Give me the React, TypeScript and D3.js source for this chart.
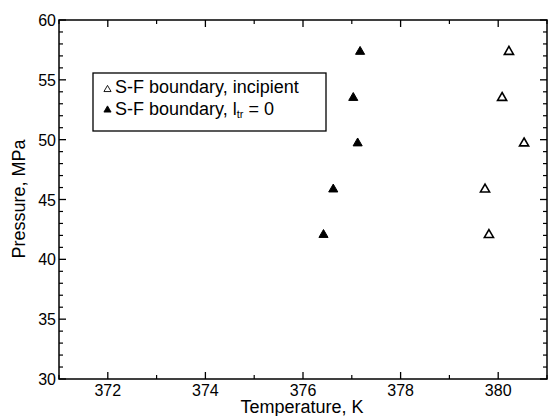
import React from "react";
import * as d3 from "d3";

const incipientT = [380.22, 380.08, 380.53, 379.73, 379.81];
const incipientP = [57.35, 53.5, 49.7, 45.85, 42.05];
const zeroT = [377.17, 377.03, 377.12, 376.62, 376.42];
const zeroP = [57.35, 53.5, 49.7, 45.85, 42.05];
const xMajorTicks = [372, 374, 376, 378, 380];
const yMajorTicks = [30, 35, 40, 45, 50, 55, 60];
const legendLabels = ["S-F boundary, incipient", "S-F boundary, "];

const W = 548;
const H = 416;
const left = 59;
const right = 547;
const top = 20;
const bottom = 379;
const font = "Arial, 'Liberation Sans', Helvetica, sans-serif";

export default function App() {
  const x = d3.scaleLinear().domain([371, 381]).range([left, right]);
  const y = d3.scaleLinear().domain([30, 60]).range([bottom, top]);
  const tri = d3.symbol().type(d3.symbolTriangle).size(36)();
  const xMinor = d3.range(371, 381.01, 1).filter((v) => !xMajorTicks.includes(v));
  const yMinor = d3.range(30, 60.01, 1).filter((v) => !yMajorTicks.includes(v));
  const major = 7;
  const minor = 4;
  const legTri = d3.symbol().type(d3.symbolTriangle).size(22)();

  return (
    <svg width={W} height={H} style={{ position: "absolute", left: 0, top: 0 }} fontFamily={font}>
      <rect x={0} y={0} width={W} height={H} fill="#fff" />
      {/* frame */}
      <rect x={left} y={top} width={right - left} height={bottom - top} fill="none" stroke="#000" strokeWidth={1.5} />
      {/* x ticks bottom & top */}
      {xMajorTicks.map((v) => (
        <g key={"xm" + v}>
          <line x1={x(v)} x2={x(v)} y1={bottom} y2={bottom - major} stroke="#000" strokeWidth={1.3} />
          <line x1={x(v)} x2={x(v)} y1={top} y2={top + major} stroke="#000" strokeWidth={1.3} />
          <text x={x(v)} y={bottom + 16.5} textAnchor="middle" fontSize={16}>{v}</text>
        </g>
      ))}
      {xMinor.map((v) => (
        <g key={"xn" + v}>
          <line x1={x(v)} x2={x(v)} y1={bottom} y2={bottom - minor} stroke="#000" strokeWidth={1.2} />
          <line x1={x(v)} x2={x(v)} y1={top} y2={top + minor} stroke="#000" strokeWidth={1.2} />
        </g>
      ))}
      {/* y ticks left & right */}
      {yMajorTicks.map((v) => (
        <g key={"ym" + v}>
          <line x1={left} x2={left + major} y1={y(v)} y2={y(v)} stroke="#000" strokeWidth={1.3} />
          <line x1={right} x2={right - major} y1={y(v)} y2={y(v)} stroke="#000" strokeWidth={1.3} />
          <text x={left - 3} y={y(v) + 6} textAnchor="end" fontSize={16}>{v}</text>
        </g>
      ))}
      {yMinor.map((v) => (
        <g key={"yn" + v}>
          <line x1={left} x2={left + minor} y1={y(v)} y2={y(v)} stroke="#000" strokeWidth={1.2} />
          <line x1={right} x2={right - minor} y1={y(v)} y2={y(v)} stroke="#000" strokeWidth={1.2} />
        </g>
      ))}
      {/* axis labels */}
      <text x={302} y={413} textAnchor="middle" fontSize={18}>Temperature, K</text>
      <text transform={`translate(25, 199) rotate(-90)`} textAnchor="middle" fontSize={18}>
        Pressure, MPa
      </text>
      {/* data */}
      {incipientT.map((t, i) => (
        <path key={"o" + i} d={tri} transform={`translate(${x(t)},${y(incipientP[i])})`} fill="#fff" stroke="#000" strokeWidth={1.6} />
      ))}
      {zeroT.map((t, i) => (
        <path key={"f" + i} d={tri} transform={`translate(${x(t)},${y(zeroP[i])})`} fill="#000" stroke="#000" strokeWidth={1} />
      ))}
      {/* legend */}
      <rect x={93} y={73} width={233} height={58} fill="#fff" stroke="#000" strokeWidth={1.3} />
      <path d={legTri} transform="translate(107.5,89.5)" fill="#fff" stroke="#000" strokeWidth={0.9} />
      <path d={legTri} transform="translate(107.5,110)" fill="#000" stroke="#000" strokeWidth={0.9} />
      <text x={115} y={93} fontSize={18}>{legendLabels[0]}</text>
      <text x={115} y={115} fontSize={18}>
        {legendLabels[1]}l
        <tspan fontSize={11} dy={3}>tr</tspan>
        <tspan dy={-3}> = 0</tspan>
      </text>
    </svg>
  );
}
